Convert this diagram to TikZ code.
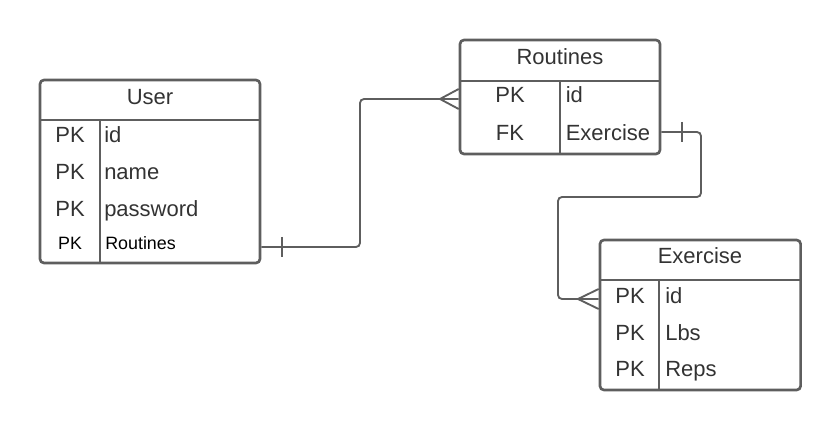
\documentclass[tikz,border=0pt]{standalone}
\usepackage{fontspec}
\setmainfont{Liberation Sans}
\definecolor{edge}{HTML}{5E5E5E}
\definecolor{ink}{HTML}{333333}
\begin{document}
\begin{tikzpicture}[x=0.75pt,y=-0.75pt,
  tbl/.style={draw=edge,line width=2pt,rounded corners=3pt,inner sep=0pt},
  sep/.style={draw=edge,line width=2pt},
  conn/.style={draw=edge,line width=1.4pt,rounded corners=3pt},
  notch/.style={draw=edge,line width=1.4pt},
  txt/.style={inner sep=0pt,text=ink,font=\fontsize{16.5}{19}\selectfont},
  small/.style={inner sep=0pt,text=black,font=\fontsize{13.4}{15}\selectfont}]
\useasboundingbox (0,0) rectangle (840,431);

% User table
\node[tbl,minimum width=165pt,minimum height=137.25pt] (user) at (150,171.5) {};
\draw[sep] (40,120) -- (260,120);
\draw[sep] (100,120) -- (100,263);
\node[txt,anchor=base] (userh) at (150,105) {User};
\node[txt,anchor=base] (u1k) at (70,142.7) {PK};
\node[txt,anchor=base west] (u1f) at (104,142.7) {id};
\node[txt,anchor=base] (u2k) at (70,180) {PK};
\node[txt,anchor=base west] (u2f) at (104,180) {name};
\node[txt,anchor=base] (u3k) at (70,216.7) {PK};
\node[txt,anchor=base west] (u3f) at (104,216.7) {password};
\node[small,anchor=base] (u4k) at (70,250) {PK};
\node[small,anchor=base west] (u4f) at (105,250) {Routines};

% Routines table
\node[tbl,minimum width=150pt,minimum height=85.5pt] (rout) at (560,97) {};
\draw[sep] (460,81) -- (660,81);
\draw[sep] (560,81) -- (560,154);
\node[txt,anchor=base] (routh) at (560,64.3) {Routines};
\node[txt,anchor=base] (r1k) at (510,102.7) {PK};
\node[txt,anchor=base west] (r1f) at (565.5,102.7) {id};
\node[txt,anchor=base] (r2k) at (510,140.7) {FK};
\node[txt,anchor=base west] (r2f) at (565.5,140.7) {Exercise};

% Exercise table
\node[tbl,minimum width=150.5pt,minimum height=112.5pt] (ex) at (700.3,315) {};
\draw[sep] (600,280) -- (800.5,280);
\draw[sep] (659,280) -- (659,390);
\node[txt,anchor=base] (exh) at (700,264) {Exercise};
\node[txt,anchor=base] (e1k) at (630,303.3) {PK};
\node[txt,anchor=base west] (e1f) at (665,303.3) {id};
\node[txt,anchor=base] (e2k) at (630,340) {PK};
\node[txt,anchor=base west] (e2f) at (665,340) {Lbs};
\node[txt,anchor=base] (e3k) at (630,376.7) {PK};
\node[txt,anchor=base west] (e3f) at (665,376.7) {Reps};

% User -> Routines
\draw[conn] (user.east |- 0,247) -- (360,247) -- (360,99) -- (rout.west |- 0,99);
\draw[notch] (282,237) -- (282,257);
\draw[notch] (440,99) -- (rout.west |- 0,89);
\draw[notch] (440,99) -- (rout.west |- 0,109);

% Routines -> Exercise
\draw[conn] (rout.east |- 0,132) -- (701,132) -- (701,197) -- (558,197) -- (558,299) -- (ex.west |- 0,299);
\draw[notch] (682,122) -- (682,142);
\draw[notch] (578,299) -- (ex.west |- 0,289);
\draw[notch] (578,299) -- (ex.west |- 0,309);
\end{tikzpicture}
\end{document}
